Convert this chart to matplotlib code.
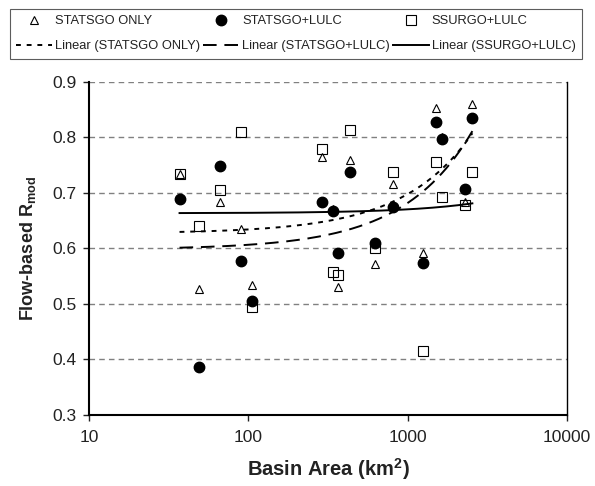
import numpy as np
import matplotlib
matplotlib.use('Agg')
from matplotlib import pyplot as plt

plt.rcParams['font.family'] = ['Liberation Sans', 'DejaVu Sans']
plt.rcParams['mathtext.fontset'] = 'custom'
plt.rcParams['mathtext.rm'] = 'Liberation Sans'
plt.rcParams['mathtext.bf'] = 'Liberation Sans:bold'

# basin areas (km2), shared by the three series
area = [37, 49, 66, 90, 106, 289, 342, 364, 435, 624, 808, 1256, 1515, 1650, 2291, 2546]
statsgo_only = [0.735, 0.527, 0.684, 0.636, 0.535, 0.764, 0.672, 0.531, 0.759, 0.572, 0.717, 0.591, 0.853, 0.800, 0.683, 0.860]
statsgo_lulc = [0.690, 0.386, 0.749, 0.578, 0.506, 0.683, 0.668, 0.592, 0.738, 0.609, 0.675, 0.574, 0.828, 0.798, 0.707, 0.836]
ssurgo_lulc = [0.735, 0.641, 0.705, 0.809, 0.494, 0.779, 0.558, 0.553, 0.814, 0.600, 0.737, 0.415, 0.756, 0.692, 0.678, 0.738]

fig = plt.figure(figsize=(5.95, 4.86), dpi=100)
ax = fig.add_axes([0.1496, 0.1461, 0.8034, 0.6852])

ax.set_xscale('log')
ax.set_xlim(10, 10000)
ax.set_ylim(0.3, 0.9)
ax.set_yticks(np.arange(0.3, 0.91, 0.1))
ax.set_yticklabels(['0.3', '0.4', '0.5', '0.6', '0.7', '0.8', '0.9'])
ax.set_xticks([10, 100, 1000, 10000])
ax.set_xticklabels(['10', '100', '1000', '10000'])
ax.minorticks_off()
ax.tick_params(axis='both', labelsize=12.5, direction='out', length=4, width=1, colors='#222222')
ax.tick_params(axis='x', pad=7)
ax.tick_params(axis='y', pad=5)
ax.grid(axis='y', color='#808080', linestyle=(0, (4, 3)), linewidth=1)
ax.set_axisbelow(True)
ax.spines['top'].set_visible(False)
ax.spines['left'].set_linewidth(1.5)
ax.spines['bottom'].set_linewidth(1.5)
ax.spines['right'].set_linewidth(1)

x = np.array(area, dtype=float)
xs = np.linspace(x.min(), x.max(), 400)

h_tri, = ax.plot(area, statsgo_only, linestyle='none', marker='^', markersize=6,
                 markerfacecolor='white', markeredgecolor='black', markeredgewidth=0.8,
                 label='STATSGO ONLY')
h_sq, = ax.plot(area, ssurgo_lulc, linestyle='none', marker='s', markersize=6.5,
                markerfacecolor='none', markeredgecolor='black', markeredgewidth=0.8,
                label='SSURGO+LULC')
h_circ, = ax.plot(area, statsgo_lulc, linestyle='none', marker='o', markersize=7.5,
                  color='black', label='STATSGO+LULC')

# Excel style linear trendlines (linear in x, drawn on log axis)
fits = []
for vals, ls, lab in [(statsgo_only, (0, (2.5, 3)), 'Linear (STATSGO ONLY)'),
                      (statsgo_lulc, (0, (7, 4)), 'Linear (STATSGO+LULC)'),
                      (ssurgo_lulc, '-', 'Linear (SSURGO+LULC)')]:
    b, a = np.polyfit(x, np.array(vals), 1)
    h, = ax.plot(xs, a + b * xs, color='black', linestyle=ls, linewidth=1.4, label=lab)
    fits.append(h)

ax.set_xlabel('Basin Area (km$^{\\mathbf{2}}$)', fontsize=14.5, fontweight='bold',
              labelpad=8, color='#222222')
ax.set_ylabel('Flow-based R$_{\\mathbf{mod}}$', fontsize=13, fontweight='bold',
              labelpad=10, color='#222222')

handles = [h_tri, fits[0], h_circ, fits[1], h_sq, fits[2]]
leg = fig.legend(handles=handles, labels=[h.get_label() for h in handles],
                 ncol=3, loc='upper center', bbox_to_anchor=(0.4975, 0.982),
                 fontsize=9.3, frameon=True, fancybox=False, edgecolor='#333333',
                 handlelength=2.8, handletextpad=0.2, columnspacing=0.25,
                 borderpad=0.5, labelspacing=1.0, borderaxespad=0)
leg.get_frame().set_linewidth(0.8)
for t in leg.get_texts():
    t.set_color('#222222')

fig.savefig('out.png', dpi=100)
